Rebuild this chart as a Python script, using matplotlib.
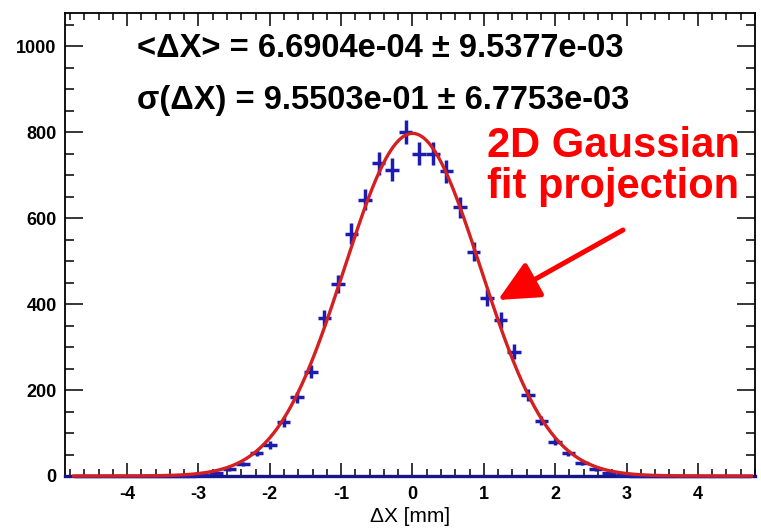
import numpy as np
import matplotlib
matplotlib.use("Agg")
import matplotlib.pyplot as plt
from matplotlib.ticker import MultipleLocator

plt.rcParams["font.family"] = ["Liberation Sans", "DejaVu Sans"]
plt.rcParams["axes.unicode_minus"] = False

# histogram: 50 bins over [-4.75, 4.75]
hist_lo, hist_hi, n_bins = -4.75, 4.75, 50
counts = [0, 0, 0, 0, 0, 0, 0, 0, 0, 2,
          6, 16, 28, 54, 72, 126, 183, 243, 368, 447,
          564, 643, 727, 712, 800, 750, 750, 709, 625, 522,
          415, 363, 289, 188, 129, 80, 53, 31, 16, 6,
          2, 0, 0, 0, 0, 0, 0, 0, 0, 0]

# gaussian fit (projection)
fit_amp = 797.0
fit_mean = 6.6904e-04
fit_sigma = 9.5503e-01

stat_lines = ["<\u0394X> = 6.6904e-04 \u00b1 9.5377e-03",
              "\u03c3(\u0394X) = 9.5503e-01 \u00b1 6.7753e-03"]
note_lines = ["2D Gaussian", "fit projection"]
xlabel = "\u0394X [mm]"

edges = np.linspace(hist_lo, hist_hi, n_bins + 1)
centers = 0.5 * (edges[:-1] + edges[1:])
half_w = 0.5 * (edges[1] - edges[0])
counts = np.array(counts, dtype=float)

fig = plt.figure(figsize=(7.61, 5.29), dpi=100)
ax = fig.add_axes([65/761, 53/529, 690/761, 463/529])

ax.errorbar(centers, counts, xerr=half_w, yerr=np.sqrt(counts), fmt="none",
            ecolor="#1c1cb0", elinewidth=2.5, capsize=0, clip_on=False, zorder=3)

xf = np.linspace(hist_lo, hist_hi, 600)
yf = fit_amp * np.exp(-0.5 * ((xf - fit_mean) / fit_sigma) ** 2)
ax.plot(xf, yf, color="#d42020", lw=2.4, zorder=4, clip_on=False)

ax.set_xlim(-4.87, 4.80)
ax.set_ylim(0, 1077)
ax.xaxis.set_major_locator(MultipleLocator(1))
ax.xaxis.set_minor_locator(MultipleLocator(0.2))
ax.yaxis.set_major_locator(MultipleLocator(200))
ax.yaxis.set_minor_locator(MultipleLocator(50))
ax.tick_params(axis="both", which="both", direction="in", top=True, right=True,
               width=1.1, labelsize=13)
ax.tick_params(axis="x", which="major", length=9.5, pad=7)
ax.tick_params(axis="x", which="minor", length=5)
ax.tick_params(axis="y", which="major", length=13, pad=6)
ax.tick_params(axis="y", which="minor", length=6.5)
for lab in ax.get_xticklabels() + ax.get_yticklabels():
    lab.set_fontweight("bold")
for s in ax.spines.values():
    s.set_linewidth(1.3)
ax.spines["bottom"].set_color("#16168a")
ax.spines["bottom"].set_linewidth(2.4)

ax.set_xlabel(xlabel, fontsize=15, labelpad=3)

fig.text(137/761, 1 - 57/529, stat_lines[0], fontsize=23.5, fontweight="bold",
         ha="left", va="baseline")
fig.text(137/761, 1 - 109/529, stat_lines[1], fontsize=23.5, fontweight="bold",
         ha="left", va="baseline")

fig.text(487/761, 1 - 157/529, note_lines[0], fontsize=30, fontweight="bold",
         color="#ff0000", ha="left", va="baseline")
fig.text(487/761, 1 - 198/529, note_lines[1], fontsize=30, fontweight="bold",
         color="#ff0000", ha="left", va="baseline")

ax.annotate("", xy=(498/761, 1 - 300/529), xycoords="figure fraction",
            xytext=(623/761, 1 - 230/529), textcoords="figure fraction",
            arrowprops=dict(arrowstyle="-|>,head_length=1.25,head_width=0.6",
                            mutation_scale=20, color="#ff0000", lw=3.6,
                            shrinkA=0, shrinkB=0))

fig.savefig("out.png", dpi=100)
